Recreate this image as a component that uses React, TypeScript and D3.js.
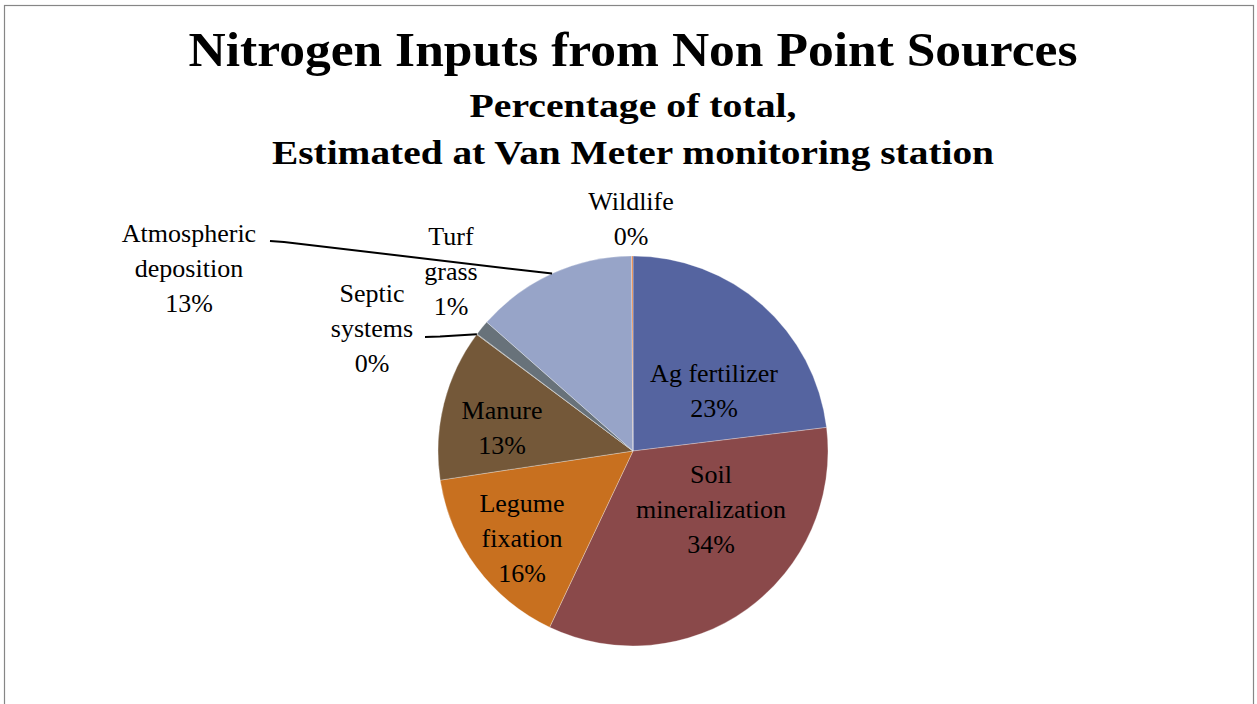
import React from "react";
import * as d3 from "d3";

// slice order clockwise from 12 o'clock, as in the source chart
const categories = [
  "Ag fertilizer",
  "Soil mineralization",
  "Legume fixation",
  "Manure",
  "Septic systems",
  "Turf grass",
  "Atmospheric deposition",
  "Wildlife",
];
const shares = [23.1, 34.0, 15.6, 12.6, 0.05, 1.25, 13.4, 0.12];
const labelLines = [
  ["Ag fertilizer"],
  ["Soil", "mineralization"],
  ["Legume", "fixation"],
  ["Manure"],
  ["Septic", "systems"],
  ["Turf", "grass"],
  ["Atmospheric", "deposition"],
  ["Wildlife"],
];
const colors = ["#5564a0", "#8a494a", "#c8701f", "#745839", "#6d6a60", "#68727a", "#97a4c8", "#e07c3c"];

const W = 1257;
const H = 704;
const cx = 633;
const cy = 451;
const R = 195;
const lineGap = 35;

// where Excel put each label block (x centre, baseline of first line)
const labelAt: [number, number][] = [
  [714, 382],
  [711, 483],
  [522, 512],
  [502, 419],
  [372, 302],
  [451, 245],
  [189, 242],
  [631, 210],
];
// leader lines: slice index -> label-side start & elbow
const leaders: { i: number; from: [number, number]; elbow: [number, number] }[] = [
  { i: 6, from: [270, 241], elbow: [284, 242] },
  { i: 4, from: [425, 337], elbow: [440, 336.5] },
];

const font = "'Liberation Serif', 'Times New Roman', Times, serif";

export default function App() {
  const total = d3.sum(shares);
  const pie = d3.pie<number>().sort(null).value((d) => d);
  const arcs = pie(shares);
  const arc = d3.arc<d3.PieArcDatum<number>>().innerRadius(0).outerRadius(R);
  const rim = d3.arc<d3.PieArcDatum<number>>().innerRadius(R).outerRadius(R);
  const line = d3.line();

  return (
    <svg
      width={W}
      height={H}
      style={{ position: "absolute", left: 0, top: 0, display: "block", background: "#fff", fontFamily: font }}
    >
      <rect x={4.5} y={5.5} width={1249} height={720} fill="#fff" stroke="#868686" strokeWidth={1.2} />

      <g style={{ fontFamily: font, fontWeight: 700 }} textAnchor="middle">
        <text x={cx} y={66} fontSize={48} textLength={889} lengthAdjust="spacingAndGlyphs">
          Nitrogen Inputs from Non Point Sources
        </text>
        <text x={cx} y={117} fontSize={33} textLength={327} lengthAdjust="spacingAndGlyphs">
          Percentage of total,
        </text>
        <text x={cx} y={164} fontSize={33} textLength={722} lengthAdjust="spacingAndGlyphs">
          Estimated at Van Meter monitoring station
        </text>
      </g>

      <g transform={`translate(${cx},${cy})`}>
        {arcs.map((a, i) => (
          <path key={categories[i]} d={arc(a) ?? ""} fill={colors[i]} stroke="#ffffff" strokeOpacity={0.5} strokeWidth={0.6} />
        ))}
      </g>

      {leaders.map((l) => {
        const [px, py] = rim.centroid(arcs[l.i]);
        return (
          <path
            key={"lead" + l.i}
            d={line([l.from, l.elbow, [cx + px, cy + py]]) ?? ""}
            fill="none"
            stroke="#000"
            strokeWidth={2}
          />
        );
      })}

      {arcs.map((a, i) => {
        const [x, y] = labelAt[i];
        const pct = Math.round((shares[i] / total) * 100) + "%";
        const lines = [...labelLines[i], pct];
        return (
          <text key={"lbl" + i} textAnchor="middle" fontSize={26} fill="#000" style={{ fontFamily: font }}>
            {lines.map((t, k) => (
              <tspan key={k} x={x} y={y + k * lineGap}>
                {t}
              </tspan>
            ))}
          </text>
        );
      })}
    </svg>
  );
}
